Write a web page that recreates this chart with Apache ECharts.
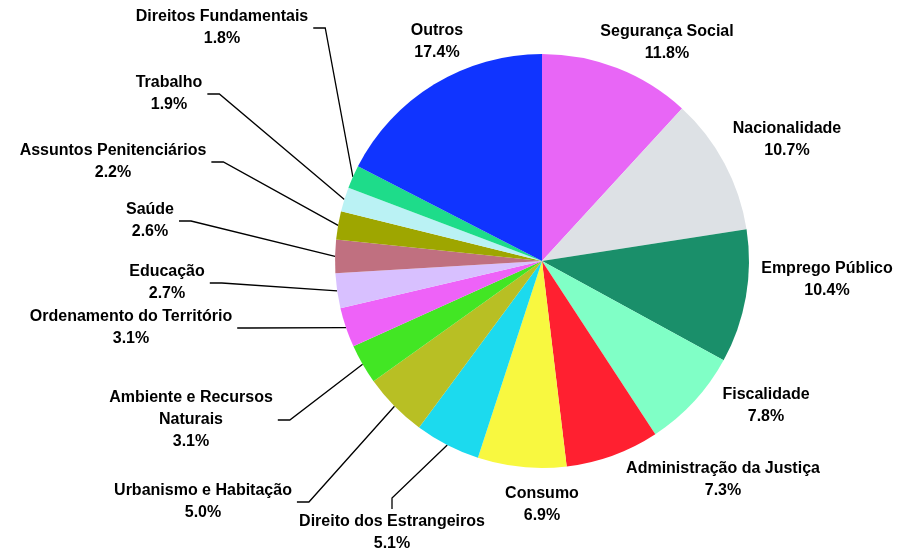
<!DOCTYPE html>
<html>
<head>
<meta charset="utf-8">
<script src="https://cdn.jsdelivr.net/npm/echarts@6/dist/echarts.min.js"></script>
<style>
html, body { margin: 0; padding: 0; background: #fff; }
#chart { width: 901px; height: 552px; }
</style>
</head>
<body>
<div id="chart"></div>
<script>
// categories, clockwise from 12 o'clock
var categories = [
    "Segurança Social", "Nacionalidade", "Emprego Público", "Fiscalidade",
    "Administração da Justiça", "Consumo", "Direito dos Estrangeiros",
    "Urbanismo e Habitação", "Ambiente e Recursos\nNaturais", "Ordenamento do Território",
    "Educação", "Saúde", "Assuntos Penitenciários", "Trabalho",
    "Direitos Fundamentais", "Outros"
];
var shares = [11.8, 10.7, 10.4, 7.8, 7.3, 6.9, 5.1, 5.0, 3.1, 3.1, 2.7, 2.6, 2.2, 1.9, 1.8, 17.4];
var colors = [
    "#E866F6", "#DDE1E5", "#1A8F6A", "#80FFC6", "#FF2030", "#F8F840", "#1CDAEE", "#B8BF24",
    "#42E624", "#EE62F8", "#D8C0FF", "#C07080", "#9EA600", "#BAF2F4", "#1EDC8A", "#1034FF"
];
// label block centre and where the leader line attaches (r = right side, t = top, "" = no line)
var labelSpots = [
    [667, 43, ""], [787, 140, ""], [827, 280, ""], [766, 406, ""],
    [723, 480, ""], [542, 505, ""], [392, 533, "t"], [203, 502, "r"],
    [191, 420, "r"], [131, 328, "r"], [167, 283, "r"], [150, 221, "r"],
    [113, 162, "r"], [169, 94, "r"], [222, 28, "r"], [437, 42, ""]
];

var chart = echarts.init(document.getElementById('chart'));

var pieData = categories.map(function (name, i) {
    return {
        name: name,
        value: shares[i],
        itemStyle: { color: colors[i] },
        labelLine: { show: labelSpots[i][2] !== "" }
    };
});

var option = {
    animation: false,
    series: [
        {
            type: 'pie',
            center: [542, 261],
            radius: 207,
            startAngle: 90,
            clockwise: true,
            avoidLabelOverlap: false,
            itemStyle: { borderWidth: 0 },
            label: {
                show: true,
                position: 'outside',
                formatter: function (p) {
                    return p.name + '\n' + p.value.toFixed(1) + '%';
                },
                color: '#000',
                fontFamily: 'Liberation Sans, Arial, sans-serif',
                fontWeight: 'bold',
                fontSize: 16,
                lineHeight: 22,
                align: 'center'
            },
            labelLine: {
                show: true,
                length: 10,
                length2: 10,
                lineStyle: { color: '#000', width: 1.3 }
            },
            labelLayout: function (p) {
                var spot = labelSpots[p.dataIndex];
                var x = spot[0], y = spot[1], side = spot[2];
                var res = { x: x, y: y, align: 'center', verticalAlign: 'middle' };
                if (side && p.labelLinePoints) {
                    var start = p.labelLinePoints[0];
                    var w = p.labelRect.width, h = p.labelRect.height;
                    if (side === 'r') {
                        var ex = x + w / 2 + 5;
                        res.labelLinePoints = [start, [ex + 12, y], [ex, y]];
                    } else {
                        var ey = y - h / 2 - 2;
                        res.labelLinePoints = [start, [x, ey - 11], [x, ey]];
                    }
                }
                return res;
            },
            data: pieData
        }
    ]
};

chart.setOption(option);
window.onresize = chart.resize;
</script>
</body>
</html>
